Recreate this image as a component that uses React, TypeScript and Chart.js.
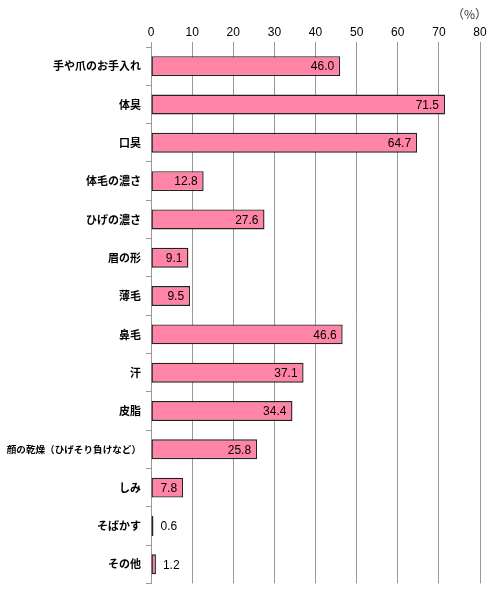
import { useEffect, useRef } from 'react';
import { Chart, registerables } from 'chart.js';
import type { Plugin } from 'chart.js';

Chart.register(...registerables);

const categories = [
  '手や爪のお手入れ',
  '体臭',
  '口臭',
  '体毛の濃さ',
  'ひげの濃さ',
  '眉の形',
  '薄毛',
  '鼻毛',
  '汗',
  '皮脂',
  '顔の乾燥（ひげそり負けなど）',
  'しみ',
  'そばかす',
  'その他',
];

const values = [46.0, 71.5, 64.7, 12.8, 27.6, 9.1, 9.5, 46.6, 37.1, 34.4, 25.8, 7.8, 0.6, 1.2];

const xTicks = [0, 10, 20, 30, 40, 50, 60, 70, 80];

const unitLabel = '（%）';

// value labels: inside the bar end when there is room, otherwise just to the right
const valueLabels: Plugin<'bar'> = {
  id: 'valueLabels',
  afterDatasetsDraw(chart) {
    const ctx = chart.ctx;
    const meta = chart.getDatasetMeta(0);
    ctx.save();
    ctx.font = '12px "Liberation Sans", Arial, sans-serif';
    ctx.fillStyle = '#000';
    ctx.textBaseline = 'middle';
    meta.data.forEach((bar, i) => {
      const v = values[i];
      const { x, y } = bar.getProps(['x', 'y'], true);
      const text = v.toFixed(1);
      if (v >= 7) {
        ctx.textAlign = 'right';
        ctx.fillText(text, x - 6, y + 1);
      } else {
        ctx.textAlign = 'left';
        ctx.fillText(text, x + 7, y + 1);
      }
    });
    ctx.font = '12px "Noto Sans CJK JP"';
    ctx.fillStyle = '#333';
    ctx.textAlign = 'right';
    ctx.fillText(unitLabel, chart.width - 6, 14);
    ctx.restore();
  },
};

export default function App() {
  const chartRef = useRef<HTMLCanvasElement>(null);
  const chartInstance = useRef<Chart | null>(null);

  useEffect(() => {
    document.body.style.margin = '0';
    if (!chartRef.current) return;

    if (chartInstance.current) {
      chartInstance.current.destroy();
    }

    const ctx = chartRef.current.getContext('2d');
    if (!ctx) return;

    chartInstance.current = new Chart(ctx, {
      type: 'bar',
      data: {
        labels: categories,
        datasets: [{
          data: values,
          backgroundColor: '#ff84a6',
          borderColor: '#222',
          borderWidth: 1.4,
          borderSkipped: false,
          categoryPercentage: 1,
          barPercentage: 0.52,
        }],
      },
      options: {
        indexAxis: 'y',
        responsive: true,
        maintainAspectRatio: false,
        animation: false,
        layout: { padding: { top: 0, right: 13, bottom: 8, left: 0 } },
        plugins: {
          legend: { display: false },
          tooltip: { enabled: false },
        },
        scales: {
          x: {
            position: 'top',
            min: 0,
            max: 80,
            afterBuildTicks: (scale) => {
              scale.ticks = xTicks.map(v => ({ value: v }));
            },
            afterFit: (scale) => {
              scale.height = 47;
            },
            border: { display: false },
            grid: { color: '#999', tickLength: 5 },
            ticks: {
              color: '#000',
              padding: 2,
              font: { family: '"Liberation Sans", Arial, sans-serif', size: 12 },
            },
          },
          y: {
            afterFit: (scale) => {
              scale.width = 151;
            },
            border: { color: '#999' },
            grid: { drawOnChartArea: false, color: '#999', tickLength: 5, offset: true },
            ticks: {
              color: '#000',
              padding: 5,
              font: (c) => ({
                family: '"Noto Sans CJK JP", sans-serif',
                size: categories[c.index] && categories[c.index].length > 10 ? 9.6 : 11,
                weight: 'bold',
              }),
            },
          },
        },
      },
      plugins: [valueLabels],
    });

    return () => {
      if (chartInstance.current) {
        chartInstance.current.destroy();
        chartInstance.current = null;
      }
    };
  }, []);

  return (
    <div style={{ position: 'relative', width: 493, height: 595 }}>
      <canvas ref={chartRef} />
    </div>
  );
}
